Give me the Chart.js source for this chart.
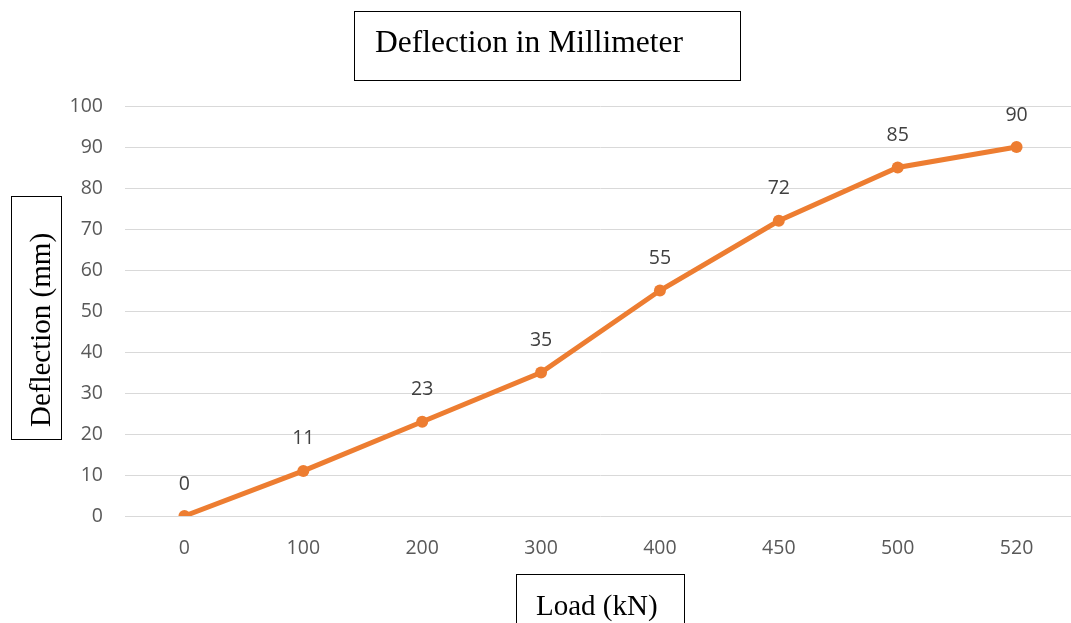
<!DOCTYPE html>
<html>
<head>
<meta charset="utf-8">
<script src="https://cdn.jsdelivr.net/npm/chart.js@4"></script>
<style>
  html, body { margin: 0; padding: 0; overflow: hidden; background: #fff; }
  #chart { display: block; }
</style>
</head>
<body>
<canvas id="chart" width="1082" height="623"></canvas>
<script>
// data
var loads = ['0', '100', '200', '300', '400', '450', '500', '520'];
var deflections = [0, 11, 23, 35, 55, 72, 85, 90];
var chartTitle = 'Deflection in Millimeter';
var xTitle = 'Load (kN)';
var yTitle = 'Deflection (mm)';

var orange = '#ED7D31';
var tickFont = { family: '"Open Sans", sans-serif', size: 19.5 };

// value labels above each point
var pointLabels = {
  id: 'pointLabels',
  afterDatasetsDraw: function (chart) {
    var ctx = chart.ctx;
    var meta = chart.getDatasetMeta(0);
    ctx.save();
    ctx.font = '19.5px "Open Sans", sans-serif';
    ctx.fillStyle = '#404040';
    ctx.textAlign = 'center';
    ctx.textBaseline = 'middle';
    meta.data.forEach(function (pt, i) {
      ctx.fillText(String(deflections[i]), pt.x, pt.y - 32);
    });
    ctx.restore();
  }
};

// boxed titles, drawn like the text boxes in the original
var boxedTitles = {
  id: 'boxedTitles',
  afterDraw: function (chart) {
    var ctx = chart.ctx;
    ctx.save();
    ctx.strokeStyle = '#000';
    ctx.lineWidth = 1;
    ctx.fillStyle = '#000';

    // main title
    ctx.strokeRect(354.5, 11.5, 386, 69);
    ctx.font = '31.5px "Liberation Serif", "Times New Roman", serif';
    ctx.textAlign = 'left';
    ctx.textBaseline = 'alphabetic';
    ctx.fillText(chartTitle, 375, 52);

    // y axis title
    ctx.strokeRect(11.5, 196.5, 50, 243);
    ctx.font = '29px "Liberation Serif", "Times New Roman", serif';
    ctx.save();
    ctx.translate(50, 330);
    ctx.rotate(-Math.PI / 2);
    ctx.textAlign = 'center';
    ctx.fillText(yTitle, 0, 0);
    ctx.restore();

    // x axis title
    ctx.strokeRect(516.5, 574.5, 168, 60);
    ctx.textAlign = 'left';
    ctx.fillText(xTitle, 536, 615);
    ctx.restore();
  }
};

new Chart(document.getElementById('chart'), {
  type: 'line',
  data: {
    labels: loads,
    datasets: [{
      data: deflections,
      borderColor: orange,
      backgroundColor: orange,
      borderWidth: 5,
      pointRadius: 6,
      pointHoverRadius: 6,
      pointBorderWidth: 0,
      tension: 0,
      fill: false
    }]
  },
  options: {
    responsive: false,
    animation: false,
    layout: { padding: { top: 106, right: 2, bottom: 0, left: 0 } },
    plugins: {
      legend: { display: false },
      tooltip: { enabled: false }
    },
    scales: {
      x: {
        offset: true,
        grid: { display: false, drawTicks: false },
        border: { display: false },
        ticks: { color: '#595959', font: tickFont, padding: 21, maxRotation: 0 },
        afterFit: function (scale) { scale.height = 107; }
      },
      y: {
        min: 0,
        max: 100,
        grid: { color: '#d9d9d9', lineWidth: 1, drawTicks: false },
        border: { display: false },
        ticks: { stepSize: 10, color: '#595959', font: tickFont, padding: 22 },
        afterFit: function (scale) { scale.width = 125; }
      }
    }
  },
  plugins: [pointLabels, boxedTitles]
});
</script>
</body>
</html>
